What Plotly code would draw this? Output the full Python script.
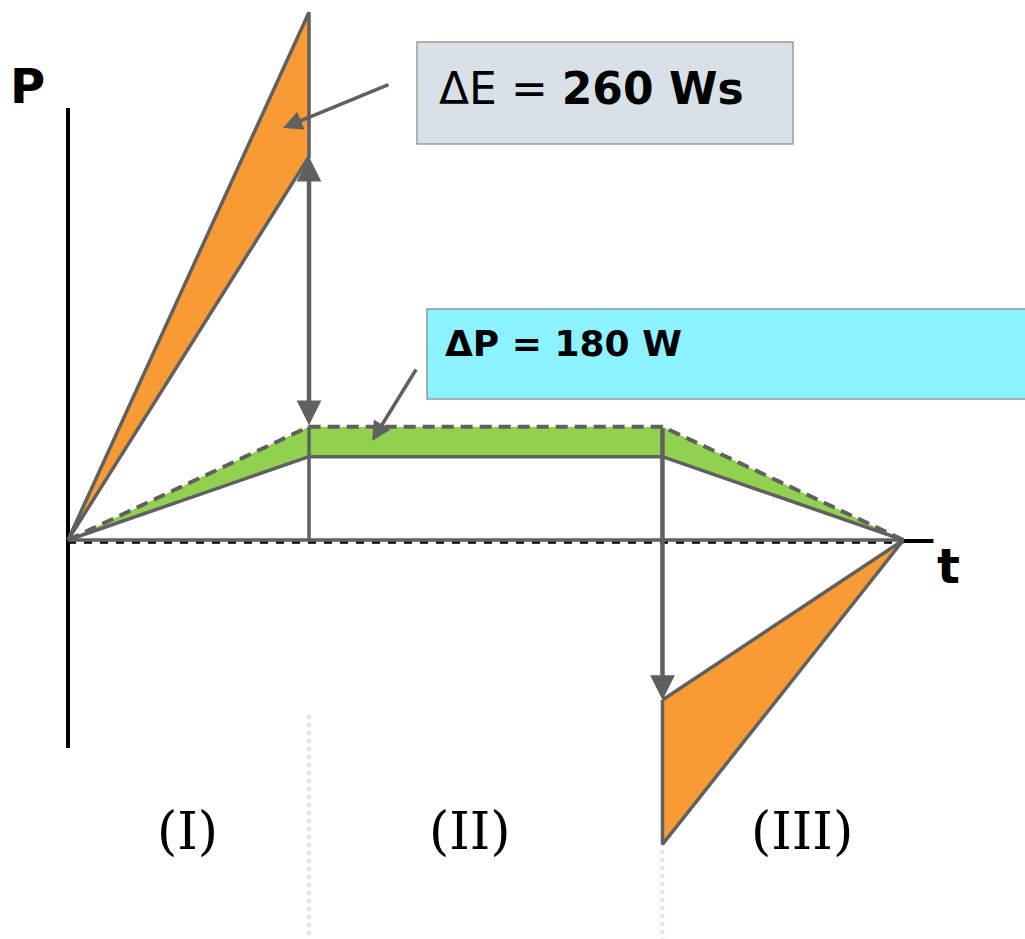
import plotly.graph_objects as go

# Time instants (s): start, end of acceleration, start of braking, standstill
t_pts = [0.0, 0.6, 1.48, 2.08]
# Input power (dashed trapezoid), W
p_in = [0, 680, 680, 0]
# Loss between input and output power, W
delta_p = 180
# Output power (solid trapezoid), W
p_out = [p - delta_p if p else 0 for p in p_in]
# Kinetic energy exchanged during the ramps, Ws
delta_e = 260
# Lower corner of the acceleration wedge and upper corner of the braking wedge, W
p_acc_low = 2300
p_brk_high = -960
phase_labels = ["(I)", "(II)", "(III)"]

GRAY = "#606060"
ORANGE = "#f99b34"
GREEN = "#92d050"

W, H = 1025, 939
ORIGIN_X, ORIGIN_Y = 68, 540      # pixel position of t=0, P=0
PX_PER_S = 241 / t_pts[1]
W_PER_PX = 6.0

x_range = [-ORIGIN_X / PX_PER_S, (W - ORIGIN_X) / PX_PER_S]
y_range = [-(H - ORIGIN_Y) * W_PER_PX, ORIGIN_Y * W_PER_PX]

t0, t1, t2, t3 = t_pts
acc_dt = t1 - t0
brk_dt = t3 - t2
p_acc_peak = p_acc_low + 2 * delta_e / acc_dt
p_brk_low = p_brk_high - 2 * delta_e / brk_dt

fig = go.Figure()

# Loss band between input and output power
fig.add_trace(go.Scatter(
    x=t_pts + t_pts[::-1], y=p_in + p_out[::-1],
    fill="toself", fillcolor=GREEN, mode="lines", line=dict(width=0),
    hoverinfo="skip"))

# Acceleration energy wedge
fig.add_trace(go.Scatter(
    x=[t0, t1, t1, t0], y=[0, p_acc_peak, p_acc_low, 0],
    fill="toself", fillcolor=ORANGE, mode="lines",
    line=dict(color=GRAY, width=3.5)))

# Braking energy wedge
fig.add_trace(go.Scatter(
    x=[t2, t2, t3, t2], y=[p_brk_high, p_brk_low, 0, p_brk_high],
    fill="toself", fillcolor=ORANGE, mode="lines",
    line=dict(color=GRAY, width=3.5)))

# Output power
fig.add_trace(go.Scatter(x=t_pts, y=p_out, mode="lines",
                         line=dict(color=GRAY, width=3.5)))
# Vertical divider at end of acceleration
fig.add_trace(go.Scatter(x=[t1, t1], y=[p_in[1], 0], mode="lines",
                         line=dict(color=GRAY, width=3.5)))
# Input power (dashed)
fig.add_trace(go.Scatter(x=t_pts, y=p_in, mode="lines",
                         line=dict(color=GRAY, width=4, dash="12px,7px")))

# Time axis: black dashed just under the gray baseline, solid tip past t3
fig.add_shape(type="line", xref="x", yref="y", x0=t0, x1=t3,
              ysizemode="pixel", yanchor=0, y0=-2.5, y1=-2.5,
              line=dict(color="black", width=2.5, dash="8px,8px"), layer="below")
fig.add_shape(type="line", xref="x", yref="y",
              xsizemode="pixel", xanchor=t3, x0=0, x1=30,
              ysizemode="pixel", yanchor=0, y0=-1, y1=-1,
              line=dict(color="black", width=4), layer="below")
# Baseline
fig.add_trace(go.Scatter(x=[t0, t3], y=[0, 0], mode="lines",
                         line=dict(color=GRAY, width=3.5)))

# Power axis
fig.add_shape(type="line", xref="x", yref="paper", x0=t0, x1=t0,
              y0=1 - 108 / H, y1=1 - 748 / H,
              line=dict(color="black", width=4), layer="below")

# Faint dotted phase separators below the diagram
fig.add_shape(type="line", xref="x", yref="paper", x0=t1, x1=t1,
              y0=1 - 715 / H, y1=0,
              line=dict(color="#e4e4e4", width=4, dash="dot"))
fig.add_shape(type="line", xref="x", yref="paper", x0=t2, x1=t2,
              y0=1 - 850 / H, y1=0,
              line=dict(color="#e4e4e4", width=4, dash="dot"))

# Power jump arrows
fig.add_annotation(x=t1, y=p_acc_low, ax=t1, ay=p_in[1], xref="x", yref="y",
                   axref="x", ayref="y", text="", showarrow=True,
                   arrowhead=2, arrowside="end+start", arrowsize=1.1,
                   arrowwidth=4.5, arrowcolor=GRAY, standoff=0, startstandoff=0)
fig.add_annotation(x=t2, y=p_brk_high, ax=t2, ay=p_in[2], xref="x", yref="y",
                   axref="x", ayref="y", text="", showarrow=True,
                   arrowhead=2, arrowsize=1.1, arrowwidth=4.5,
                   arrowcolor=GRAY, standoff=0)

# Callout boxes
fig.add_shape(type="rect", xref="paper", yref="paper",
              x0=417 / W, x1=793 / W, y0=1 - 42 / H, y1=1 - 144 / H,
              fillcolor="#d9e1e8", line=dict(color="#9a9a9a", width=1.5))
fig.add_shape(type="rect", xref="paper", yref="paper",
              x0=427 / W, x1=1030 / W, y0=1 - 309 / H, y1=1 - 399 / H,
              fillcolor="#8cf2ff", line=dict(color="#8a9a9c", width=1.5))

FONT = "DejaVu Sans"
fig.add_annotation(x=437 / W, y=1 - 89 / H, xref="paper", yref="paper",
                   xanchor="left", yanchor="middle", showarrow=False,
                   text=f"ΔE = <b>{delta_e} Ws</b>",
                   font=dict(family=FONT, size=44, color="black"))
fig.add_annotation(x=443 / W, y=1 - 343 / H, xref="paper", yref="paper",
                   xanchor="left", yanchor="middle", showarrow=False,
                   text=f"<b>ΔP = {delta_p} W</b>",
                   font=dict(family=FONT, size=36, color="black"))

# Callout pointers
fig.add_annotation(x=283 / W, y=1 - 128 / H, xref="paper", yref="paper",
                   ax=107, ay=-44, text="", showarrow=True, arrowhead=2,
                   arrowsize=1.1, arrowwidth=3.5, arrowcolor=GRAY, standoff=0)
fig.add_annotation(x=372 / W, y=1 - 441 / H, xref="paper", yref="paper",
                   ax=45, ay=-73, text="", showarrow=True, arrowhead=2,
                   arrowsize=1.1, arrowwidth=3.5, arrowcolor=GRAY, standoff=0)

# Axis letters
fig.add_annotation(x=27 / W, y=1 - 86 / H, xref="paper", yref="paper",
                   xanchor="center", yanchor="middle",
                   showarrow=False, text="<b>P</b>",
                   font=dict(family=FONT, size=48, color="black"))
fig.add_annotation(x=948 / W, y=1 - 566 / H, xref="paper", yref="paper",
                   xanchor="center", yanchor="middle",
                   showarrow=False, text="<b>t</b>",
                   font=dict(family=FONT, size=48, color="black"))

# Phase labels
for lbl, cx in zip(phase_labels, [187, 470, 802]):
    fig.add_annotation(x=cx / W, y=1 - 831 / H, xref="paper", yref="paper",
                       xanchor="center", yanchor="middle",
                       showarrow=False, text=lbl,
                       font=dict(family="DejaVu Serif", size=52, color="black"))

fig.update_layout(
    width=W, height=H, margin=dict(l=0, r=0, t=0, b=0),
    paper_bgcolor="white", plot_bgcolor="white", showlegend=False,
    xaxis=dict(range=x_range, visible=False, fixedrange=True),
    yaxis=dict(range=y_range, visible=False, fixedrange=True),
)

fig.write_html("out.html")
